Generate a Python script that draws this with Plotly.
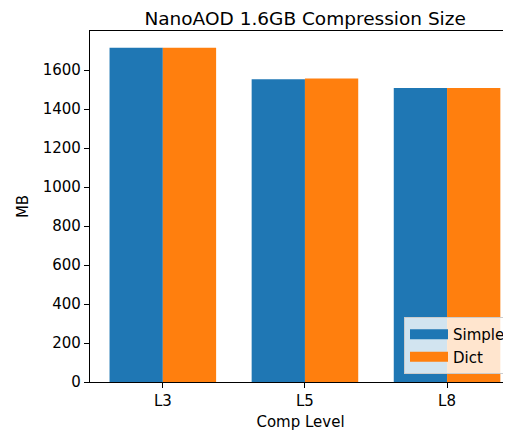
import plotly.graph_objects as go

categories = ["L3", "L5", "L8"]
simple_mb = [1714, 1552, 1508]
dict_mb = [1714, 1556, 1508]
y_ticks = [0, 200, 400, 600, 800, 1000, 1200, 1400, 1600]
series = [("Simple", simple_mb, "#1f77b4"), ("Dict", dict_mb, "#ff7f0e")]

FONT = "DejaVu Sans"

fig = go.Figure()
for name, vals, color in series:
    fig.add_trace(go.Bar(x=categories, y=vals, name=name, showlegend=False,
                         marker=dict(color=color, line=dict(width=0))))
# legend entries drawn as wide patches (matplotlib style)
for name, vals, color in series:
    fig.add_trace(go.Scatter(x=[None], y=[None], mode="lines", name=name,
                             line=dict(color=color, width=10)))

# page body has an 8px default margin, so the figure is sized to fill the rest
fig.update_layout(
    width=503, height=423,
    margin=dict(l=82, r=0, t=23, b=49, autoexpand=False),
    paper_bgcolor="white", plot_bgcolor="white",
    barmode="group", bargap=0.25, bargroupgap=0,
    font=dict(family=FONT, size=15, color="black"),
    title=dict(text="NanoAOD 1.6GB Compression Size", x=0.511, xanchor="center",
               xref="paper", y=0.974, yanchor="middle", yref="container",
               font=dict(size=18.5, color="black")),
    legend=dict(x=1.0, xanchor="right", y=0.023, yanchor="bottom",
                bgcolor="rgba(255,255,255,0.8)", bordercolor="#cccccc", borderwidth=1,
                font=dict(size=15), itemwidth=38),
    showlegend=True,
)
fig.update_xaxes(
    range=[-0.5125, 2.45], showgrid=False, showline=True, linecolor="black", linewidth=1.2,
    mirror=True, ticks="outside", ticklen=5, tickcolor="black",
    tickfont=dict(size=15), title=dict(text="Comp Level", font=dict(size=15), standoff=7),
)
fig.update_yaxes(
    range=[0, 1800], tickvals=y_ticks, showgrid=False, showline=True, linecolor="black", linewidth=1.2,
    ticks="outside", ticklen=5, tickcolor="black", zeroline=False,
    tickfont=dict(size=15), title=dict(text="MB", font=dict(size=15), standoff=10),
)

fig.write_html("out.html")
